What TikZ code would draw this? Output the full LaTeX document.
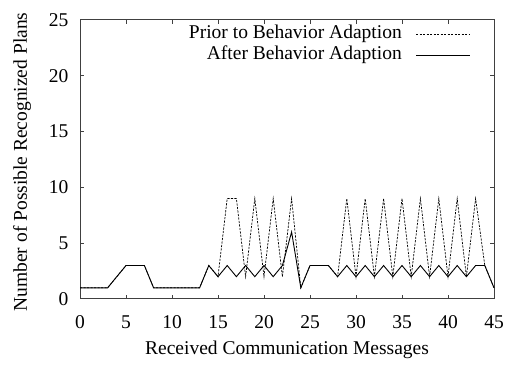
\documentclass[tikz,border=0pt]{standalone}
\usepackage{fontspec}
\setmainfont{Liberation Serif}
\tikzset{
  axisline/.style={line width=1pt, black!75},
  afterline/.style={line width=0.9pt},
  priorline/.style={line width=0.7pt, dash pattern=on 2.2pt off 1.3pt},
  plotlabel/.style={font=\fontsize{19.5}{19.5}\selectfont, inner sep=0pt},
}
\begin{document}
\begin{tikzpicture}[x=1pt,y=1pt]
      \useasboundingbox (0,0) rectangle (506,366);

      % plot area
      \begin{scope}[shift={(80,67)}, x=9.2pt, y=11.16pt]
        \draw[axisline] (0,0) rectangle (45,25);
        \foreach \t in {0,5,...,45} {
          \draw[axisline] (\t,0) -- ++(0,4pt);
          \draw[axisline] (\t,25) -- ++(0,-4pt);
          \node[plotlabel, anchor=center] (xl\t) at (\t,-2.05) {\t};
        }
        \foreach \v in {0,5,...,25} {
          \draw[axisline] (0,\v) -- ++(4pt,0);
          \draw[axisline] (45,\v) -- ++(-4pt,0);
          \node[plotlabel, anchor=east] (yl\v) at (-1.25,\v) {\v};
        }

        \draw[priorline] plot coordinates {(0,1) (3,1) (5,3) (7,3) (8,1) (13,1)
          (14,3) (15,2) (16,9) (17,9) (18,2) (19,9) (20,2) (21,9) (22,2) (23,9)
          (24,1) (25,3) (27,3) (28,2) (29,9) (30,2) (31,9) (32,2) (33,9) (34,2)
          (35,9) (36,2) (37,9) (38,2) (39,9) (40,2) (41,9) (42,2) (43,9) (44,3) (45,1)};
        \draw[afterline] plot coordinates {(0,1) (3,1) (5,3) (7,3) (8,1) (13,1)
          (14,3) (15,2) (16,3) (17,2) (18,3) (19,2) (20,3) (21,2) (22,3) (23,6)
          (24,1) (25,3) (27,3) (28,2) (29,3) (30,2) (31,3) (32,2) (33,3) (34,2)
          (35,3) (36,2) (37,3) (38,2) (39,3) (40,2) (41,3) (42,2) (43,3) (44,3) (45,1)};
      \end{scope}

      % legend
      \node[plotlabel, anchor=east] (prior) at (402,332) {Prior to Behavior Adaption};
      \node[plotlabel, anchor=east] (after) at (402,311) {After Behavior Adaption};
      \coordinate (priorend) at (470,332);
      \coordinate (afterend) at (470,311);
      \draw[priorline] ([xshift=14pt]prior.east) -- (priorend);
      \draw[afterline] ([xshift=14pt]after.east) -- (afterend);

      % axis titles
      \node[plotlabel] (xtitle) at (287,16) {Received Communication Messages};
      \node[plotlabel, rotate=90] (ytitle) at (22,204) {Number of Possible Recognized Plans};
\end{tikzpicture}
\end{document}
